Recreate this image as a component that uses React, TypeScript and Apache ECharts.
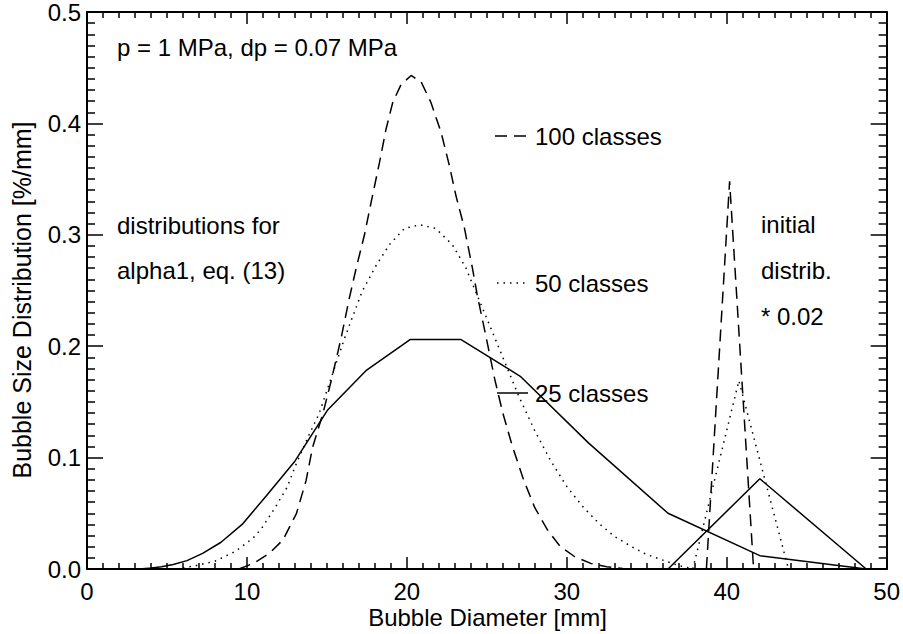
import React, { useEffect, useRef } from "react";
import * as echarts from "echarts";

// Bubble diameter [mm] and size distribution [%/mm] for each class count
const dash100X = [9.5, 10.4, 11.4, 12.25, 13.1, 13.7, 14.1, 14.74, 15.27, 15.9, 16.4, 16.83, 17.35, 17.77, 18.29, 18.7, 19.12, 19.64, 20.27, 20.9, 21.5, 22.14, 22.66, 23.07, 23.6, 24.1, 24.4, 25.0, 25.5, 26.0, 26.6, 27.3, 28.0, 28.8, 29.6, 30.5, 31.5, 32.5, 33.5, 34.5];
const dash100Y = [0, 0.005, 0.014, 0.026, 0.05, 0.0795, 0.109, 0.139, 0.169, 0.208, 0.243, 0.27, 0.3, 0.3295, 0.365, 0.395, 0.419, 0.435, 0.443, 0.437, 0.419, 0.392, 0.362, 0.335, 0.306, 0.27, 0.246, 0.205, 0.17, 0.14, 0.11, 0.08, 0.055, 0.035, 0.02, 0.011, 0.005, 0.002, 0.0005, 0];
const dash100InitX = [38.73, 40.18, 41.68];
const dash100InitY = [0, 0.348, 0];

const dot50X = [6.0, 6.8, 8.0, 9.3, 10.4, 10.9, 11.8, 12.5, 13.1, 13.9, 14.5, 15.0, 16.1, 17.2, 18.1, 18.9, 19.85, 20.8, 21.8, 22.85, 23.7, 24.3, 25.0, 26.0, 27.0, 28.0, 29.0, 30.0, 31.0, 32.0, 33.0, 34.1, 35.0, 36.2, 37.0, 38.0];
const dot50Y = [0.001, 0.003, 0.007, 0.016, 0.028, 0.036, 0.056, 0.073, 0.095, 0.121, 0.139, 0.16, 0.207, 0.249, 0.273, 0.291, 0.3057, 0.309, 0.3057, 0.291, 0.27, 0.249, 0.225, 0.19, 0.155, 0.124, 0.097, 0.074, 0.056, 0.041, 0.029, 0.0197, 0.013, 0.007, 0.003, 0];
const dot50InitX = [37.88, 40.76, 43.86];
const dot50InitY = [0, 0.169, 0];

const solid25X = [3.0, 3.47, 4.02, 4.66, 5.39, 6.25, 7.23, 8.38, 9.7, 11.23, 13.01, 15.06, 17.44, 20.2, 23.39, 27.09, 31.37, 36.33, 42.07, 48.72];
const solid25Y = [0, 0.0002, 0.0008, 0.002, 0.004, 0.0075, 0.014, 0.024, 0.04, 0.066, 0.097, 0.143, 0.178, 0.206, 0.206, 0.173, 0.113, 0.05, 0.012, 0];
const solid25InitX = [36.33, 42.07, 48.72];
const solid25InitY = [0, 0.081, 0];

const xTicks = { min: 0, max: 50, interval: 10 };
const yTicks = { min: 0, max: 0.5, interval: 0.1 };

const FONT = "Liberation Sans, Arial, Helvetica, sans-serif";
const FS = 24;
const DASH = [12, 7];
const DOT = [1.5, 5];

const zip = (xs: number[], ys: number[]) => xs.map((x, i) => [x, ys[i]]);

function lineSeries(xs: number[], ys: number[], dash: number[] | "solid") {
  return {
    type: "line",
    data: zip(xs, ys),
    symbol: "none",
    xAxisIndex: 0,
    yAxisIndex: 0,
    lineStyle: { color: "#000", width: 1.5, type: dash },
    silent: true,
  };
}

function axisCommon(pos: string, showLabel: boolean, majorLen: number, minorLen: number) {
  return {
    type: "value",
    position: pos,
    axisLine: { show: true, onZero: false, lineStyle: { color: "#000", width: 2 } },
    axisTick: { show: true, inside: true, length: majorLen, lineStyle: { color: "#000", width: 1.5 } },
    minorTick: { show: true, splitNumber: 10, length: minorLen, lineStyle: { color: "#000", width: 1.5 } },
    splitLine: { show: false },
    minorSplitLine: { show: false },
    axisLabel: { show: showLabel, color: "#000", fontSize: FS, fontFamily: FONT },
  };
}

function label(text: string, x: number, y: number) {
  return {
    type: "text",
    x,
    y,
    style: { text, fill: "#000", font: `${FS}px ${FONT}`, align: "left", verticalAlign: "middle" },
  };
}

function sample(x1: number, x2: number, y: number, dash: number[] | null) {
  return {
    type: "line",
    shape: { x1, y1: y, x2, y2: y },
    style: { stroke: "#000", lineWidth: 1.5, lineDash: dash || undefined },
  };
}

export default function App() {
  const ref = useRef<HTMLDivElement>(null);
  useEffect(() => {
    if (!ref.current) return;
    const chart = echarts.init(ref.current, undefined, { renderer: "svg" });
    chart.setOption({
      animation: false,
      backgroundColor: "#fff",
      grid: { left: 87, right: 15, top: 9, bottom: 65, containLabel: false },
      xAxis: [
        { ...axisCommon("bottom", true, 12, 6), ...xTicks, axisLabel: { color: "#000", fontSize: FS, fontFamily: FONT, margin: 10 } },
        { ...axisCommon("top", false, 12, 6), ...xTicks },
      ],
      yAxis: [
        {
          ...axisCommon("left", true, 16, 8),
          ...yTicks,
          axisLabel: { color: "#000", fontSize: FS, fontFamily: FONT, margin: 6, formatter: (v: number) => v.toFixed(1) },
        },
        { ...axisCommon("right", false, 16, 8), ...yTicks },
      ],
      series: [
        lineSeries(dash100X, dash100Y, DASH),
        lineSeries(dash100InitX, dash100InitY, DASH),
        lineSeries(dot50X, dot50Y, DOT),
        lineSeries(dot50InitX, dot50InitY, DOT),
        lineSeries(solid25X, solid25Y, "solid"),
        lineSeries(solid25InitX, solid25InitY, "solid"),
      ],
      graphic: [
        label("p = 1 MPa, dp = 0.07 MPa", 117, 47),
        sample(495, 528, 136, DASH),
        label("100 classes", 535, 136),
        label("distributions for", 117, 225),
        label("alpha1, eq. (13)", 117, 270),
        sample(497, 528, 283, DOT),
        label("50 classes", 535, 283),
        sample(497, 528, 393, null),
        label("25 classes", 535, 393),
        label("initial", 761, 224),
        label("distrib.", 761, 270),
        label("* 0.02", 761, 316),
        {
          type: "text",
          x: 487.5,
          y: 617,
          style: { text: "Bubble Diameter [mm]", fill: "#000", font: `${FS}px ${FONT}`, align: "center", verticalAlign: "middle" },
        },
        {
          type: "text",
          x: 22,
          y: 300,
          rotation: Math.PI / 2,
          style: { text: "Bubble Size Distribution [%/mm]", fill: "#000", font: `25px ${FONT}`, align: "center", verticalAlign: "middle" },
        },
      ],
    });
    return () => chart.dispose();
  }, []);
  return <div ref={ref} style={{ position: "fixed", left: 0, top: 0, width: 903, height: 634 }} />;
}
